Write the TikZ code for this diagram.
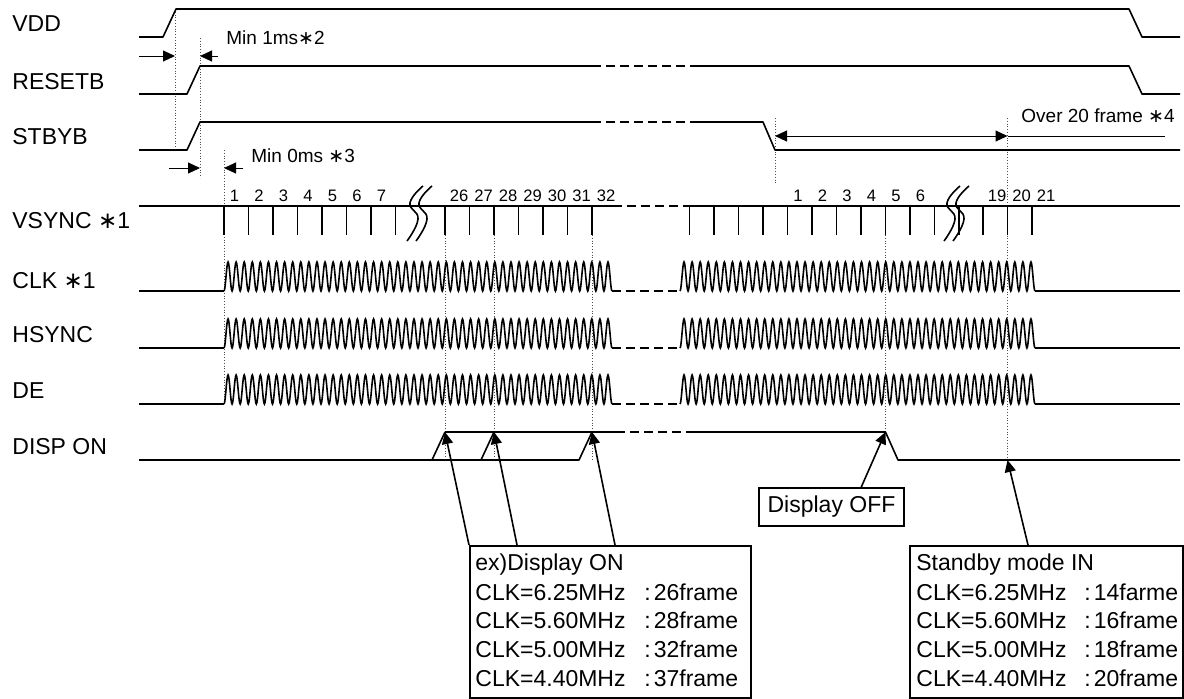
\documentclass[tikz,border=0pt]{standalone}
\usepackage{fontspec}
\setmainfont{Liberation Sans}
\newfontfamily\symfont{DejaVu Sans}
\usetikzlibrary{arrows.meta}
\newcommand\myast{{\symfont ∗}}
\newcommand\fcol{:\kern1.5pt}
\newcommand\clkrow[1]{%
  \draw[sig] (139,#1) -- (224,#1);
  \draw[wave] (224,#1) \foreach \i in {1,...,48}{ cos ++(2.021,-14.5) sin ++(2.021,-14.5) cos ++(2.021,14.5) sin ++(2.021,14.5) };
  \draw[brk] (612,#1) -- (680,#1);
  \draw[wave] (680,#1) \foreach \i in {1,...,44}{ cos ++(2.017,-14.5) sin ++(2.017,-14.5) cos ++(2.017,14.5) sin ++(2.017,14.5) };
  \draw[sig] (1035,#1) -- (1180,#1);}
\newcommand\vbreak{%
  \draw[line width=0.8pt] plot[smooth, tension=0.8] coordinates {(423,186) (410,203) (418,219) (407,241)};
  \draw[line width=0.8pt] plot[smooth, tension=0.8] coordinates {(432,186) (419,203) (427,219) (416,241)};}
\begin{document}
\begin{tikzpicture}[x=0.5pt,y=-0.5pt,
  sig/.style={line width=0.8pt, line join=round},
  brk/.style={line width=1pt, dash pattern=on 4.5pt off 2.5pt},
  guide/.style={line width=0.4pt, densely dotted, black!70},
  lbl/.style={anchor=base west, inner sep=0pt, font=\fontsize{11.5}{13}\selectfont},
  small/.style={anchor=base west, inner sep=0pt, font=\fontsize{9.5}{11}\selectfont},
  num/.style={anchor=base west, inner sep=0pt, font=\fontsize{8.3}{10}\selectfont},
  boxtxt/.style={anchor=base west, inner sep=0pt, font=\fontsize{11.5}{13}\selectfont},
  tip/.style={-{Triangle[length=6pt,width=5.5pt]}, line width=0.8pt},
  thintip/.style={-{Triangle[length=6pt,width=5.5pt]}, line width=0.5pt},
  wave/.style={line width=0.8pt},
  box/.style={draw, line width=0.8pt, inner sep=0pt}
]
\useasboundingbox (0,0) rectangle (1184,698);

% labels
\node[lbl] (lvdd) at (12,31) {VDD};
\node[lbl] (lres) at (12,89) {RESETB};
\node[lbl] (lstb) at (12,144) {STBYB};
\node[lbl] (lvs) at (12,228) {VSYNC \myast1};
\node[lbl] (lclk) at (12,288) {CLK \myast1};
\node[lbl] (lhs) at (12,342) {HSYNC};
\node[lbl] (lde) at (12,398) {DE};
\node[lbl] (ldisp) at (12,454) {DISP ON};

% guides
\draw[guide] (175,9) -- (175,150);
\draw[guide] (200,38) -- (200,178);
\draw[guide] (224,150) -- (224,404);
\draw[guide] (775,118) -- (775,185);
\draw[guide] (1007.5,118) -- (1007.5,460);
\foreach \gx in {445,494,592} \draw[guide] (\gx,235) -- (\gx,460);
\draw[guide] (885.5,235) -- (885.5,432);

% VDD
\draw[sig] (139,37) -- (163,37) -- (176,9) -- (1129,9) -- (1142,37) -- (1180,37);
% RESETB
\draw[sig] (139,94) -- (187,94) -- (200,66) -- (592,66);
\draw[brk] (592,66) -- (690,66);
\draw[sig] (690,66) -- (1129,66) -- (1142,94) -- (1180,94);
% STBYB
\draw[sig] (139,150) -- (187,150) -- (200,122) -- (592,122);
\draw[brk] (592,122) -- (690,122);
\draw[sig] (690,122) -- (763,122) -- (775,150) -- (1180,150);

% timing annotations
\draw[thintip] (139,56) -- (175,56);
\draw[thintip] (218,56) -- (200,56);
\node[small] (m1) at (226,44) {Min 1ms\myast2};
\draw[thintip] (169,168) -- (200,168);
\draw[thintip] (243,168) -- (224,168);
\node[small] (m0) at (251,162) {Min 0ms \myast3};
\coordinate (sbl) at (775,136);
\coordinate (sbr) at (1007.5,136);
\draw[{Triangle[length=6pt,width=5.5pt]}-{Triangle[length=6pt,width=5.5pt]}, line width=0.5pt] (sbl) -- (sbr);
\draw[line width=0.5pt] (sbr) -- (1165,136);
\node[small] (o20) at (1021,122) {Over 20 frame \myast4};

% VSYNC
\draw[sig] (139,206) -- (613,206);
\draw[brk] (613,206) -- (687,206);
\draw[sig] (687,206) -- (1180,206);
\foreach \k in {0,...,7} \draw[sig] ({224+24.5*\k},206) -- ({224+24.5*\k},235);
\foreach \k in {0,...,6} \draw[sig] ({445+24.5*\k},206) -- ({445+24.5*\k},235);
\foreach \k in {0,...,11} \draw[sig] ({689.5+24.5*\k},206) -- ({689.5+24.5*\k},235);
\foreach \k in {0,...,2} \draw[sig] ({983+24.5*\k},206) -- ({983+24.5*\k},235);
\foreach \n in {1,...,7} \node[num] (na\n) at ({229.5+24.5*(\n-1)},201) {\n};
\foreach \n in {26,...,32} \node[num] (nb\n) at ({449.5+24.5*(\n-26)},201) {\n};
\foreach \n in {1,...,6} \node[num] (nc\n) at ({793+24.5*(\n-1)},201) {\n};
\foreach \n in {19,20,21} \node[num] (nd\n) at ({987.5+24.5*(\n-19)},201) {\n};
\vbreak
\begin{scope}[shift={(537,0)}]\vbreak\end{scope}

% clocks
\clkrow{291}
\clkrow{348}
\clkrow{404}

% DISP ON
\draw[sig] (139,460) -- (579,460) -- (592,432);
\draw[sig] (432,460) -- (445,432);
\draw[sig] (481,460) -- (494,432);
\draw[sig] (445,432) -- (616,432);
\draw[brk] (616,432) -- (690,432);
\draw[sig] (690,432) -- (885.5,432) -- (898,460) -- (1180,460);

% boxes
\node[box, anchor=north west, minimum width=140.5pt, minimum height=76pt] (onbox) at (469,545) {};
\node[box, anchor=north west, minimum width=136.5pt, minimum height=76pt] (sbbox) at (909,545) {};
\node[box, minimum width=72.5pt, minimum height=19pt, font=\fontsize{11.5}{13}\selectfont] (offbox) at (831.5,507) {Display OFF};

\node[boxtxt] (t10) at (475,570) {ex)Display ON};
\node[boxtxt] (t11) at (475,600) {CLK=6.25MHz};
\node[boxtxt] (t12) at (475,628) {CLK=5.60MHz};
\node[boxtxt] (t13) at (475,657) {CLK=5.00MHz};
\node[boxtxt] (t14) at (475,686) {CLK=4.40MHz};
\node[boxtxt] (f11) at (644,600) {\fcol26frame};
\node[boxtxt] (f12) at (644,628) {\fcol28frame};
\node[boxtxt] (f13) at (644,657) {\fcol32frame};
\node[boxtxt] (f14) at (644,686) {\fcol37frame};

\node[boxtxt] (t20) at (916,570) {Standby mode IN};
\node[boxtxt] (t21) at (916,600) {CLK=6.25MHz};
\node[boxtxt] (t22) at (916,628) {CLK=5.60MHz};
\node[boxtxt] (t23) at (916,657) {CLK=5.00MHz};
\node[boxtxt] (t24) at (916,686) {CLK=4.40MHz};
\node[boxtxt] (f21) at (1084,600) {\fcol14farme};
\node[boxtxt] (f22) at (1084,628) {\fcol16frame};
\node[boxtxt] (f23) at (1084,657) {\fcol18frame};
\node[boxtxt] (f24) at (1084,686) {\fcol20frame};

% arrows
\coordinate (on1) at (445,432);
\coordinate (on2) at (494,432);
\coordinate (on3) at (592,432);
\coordinate (offpt) at (885.5,432);
\coordinate (sbpt) at (1007.5,460);
\draw[tip] (onbox.north west) -- (on1);
\draw[tip] ([xshift=24pt]onbox.north west) -- (on2);
\draw[tip] ([xshift=73pt]onbox.north west) -- (on3);
\draw[tip] ([xshift=51.5pt]offbox.north west) -- (offpt);
\draw[tip] ([xshift=59.5pt]sbbox.north west) -- (sbpt);
\end{tikzpicture}
\end{document}
